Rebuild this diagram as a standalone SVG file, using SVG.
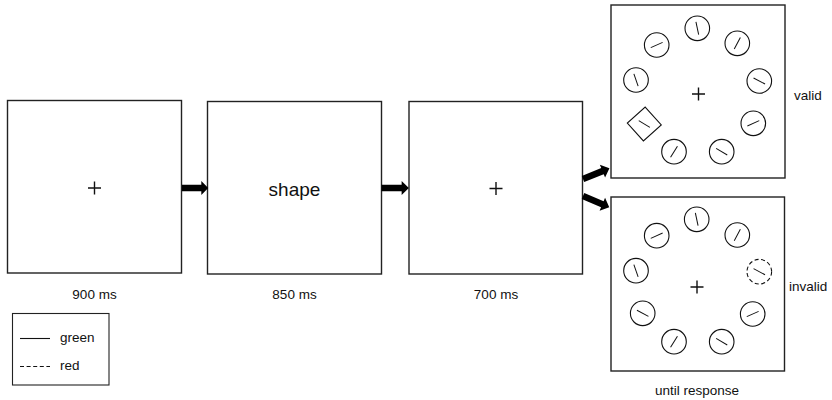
<svg xmlns="http://www.w3.org/2000/svg" width="832" height="400" viewBox="0 0 832 400">
<style>
  .box{fill:#fff;stroke:#222;stroke-width:1.4}
  .plus{stroke:#111;stroke-width:1.4;fill:none}
  .stim circle,.stim polygon{fill:none;stroke:#111;stroke-width:1.1}
  .stim line{stroke:#111;stroke-width:1}
  .dash{stroke-dasharray:4 2.6}
  .arrow{fill:#000}
  text{font-family:"Liberation Sans",Arial,sans-serif;font-size:13.5px;fill:#111}
  .big{font-size:19px}
</style>
<defs>
  <path id="plusS" d="M-6.5,0H6.5M0,-6.5V6.5"/>
  <path id="arr" d="M0,-3.3H21V-7L28.5,0L21,7V3.3H0Z"/>
</defs>
<rect width="832" height="400" fill="#fff"/>

<g id="fix1">
  <rect class="box" x="7.5" y="100.5" width="174" height="172.5"/>
  <use href="#plusS" class="plus" x="94.5" y="188"/>
  <text x="94.5" y="299" text-anchor="middle">900 ms</text>
</g>

<g id="shape">
  <rect class="box" x="207.5" y="101.5" width="174" height="172.5"/>
  <text class="big" x="294.5" y="196" text-anchor="middle">shape</text>
  <text x="294.5" y="299" text-anchor="middle">850 ms</text>
</g>

<g id="fix2">
  <rect class="box" x="409" y="101.5" width="173.5" height="172.5"/>
  <use href="#plusS" class="plus" x="496" y="188.5"/>
  <text x="496" y="299" text-anchor="middle">700 ms</text>
</g>

<g id="valid">
  <rect class="box" x="611" y="5" width="174" height="173"/>
  <use href="#plusS" class="plus" x="698.5" y="94"/>
  <g class="stim">
    <g transform="translate(697.3,28.3)"><circle r="12.3"/><line x1="-6.5" x2="6.5" transform="rotate(78)"/></g>
    <g transform="translate(656.7,45)"><circle r="12.3"/><line x1="-6.5" x2="6.5" transform="rotate(-24)"/></g>
    <g transform="translate(737.3,43.3)"><circle r="12.3"/><line x1="-6.5" x2="6.5" transform="rotate(-62)"/></g>
    <g transform="translate(636,80)"><circle r="12.3"/><line x1="-6.5" x2="6.5" transform="rotate(71)"/></g>
    <g transform="translate(759.3,81)"><circle r="12.3"/><line x1="-6.5" x2="6.5" transform="rotate(28)"/></g>
    <g transform="translate(644.3,124)"><polygon points="0,-17 17,0 0,17 -17,0" transform="rotate(3)"/><line x1="-6.5" x2="6.5" transform="rotate(31)"/></g>
    <g transform="translate(753.3,123.3)"><circle r="12.3"/><line x1="-6.5" x2="6.5" transform="rotate(-24)"/></g>
    <g transform="translate(674,151.7)"><circle r="12.3"/><line x1="-6.5" x2="6.5" transform="rotate(-58)"/></g>
    <g transform="translate(721.7,151.7)"><circle r="12.3"/><line x1="-6.5" x2="6.5" transform="rotate(31)"/></g>
  </g>
  <text x="794" y="100">valid</text>
</g>

<g id="invalid">
  <rect class="box" x="611" y="197" width="173.5" height="174"/>
  <use href="#plusS" class="plus" x="697" y="287"/>
  <g class="stim">
    <g transform="translate(696.7,219.3)"><circle r="12.3"/><line x1="-6.5" x2="6.5" transform="rotate(78)"/></g>
    <g transform="translate(656.7,235.7)"><circle r="12.3"/><line x1="-6.5" x2="6.5" transform="rotate(-24)"/></g>
    <g transform="translate(737.3,235)"><circle r="12.3"/><line x1="-6.5" x2="6.5" transform="rotate(-62)"/></g>
    <g transform="translate(636,270.7)"><circle r="12.3"/><line x1="-6.5" x2="6.5" transform="rotate(71)"/></g>
    <g transform="translate(759.3,271.7)"><circle r="12.3" class="dash"/><line x1="-6.5" x2="6.5" transform="rotate(28)"/></g>
    <g transform="translate(642.7,313.3)"><circle r="12.3"/><line x1="-6.5" x2="6.5" transform="rotate(28)"/></g>
    <g transform="translate(752.7,314)"><circle r="12.3"/><line x1="-6.5" x2="6.5" transform="rotate(-24)"/></g>
    <g transform="translate(674,341.7)"><circle r="12.3"/><line x1="-6.5" x2="6.5" transform="rotate(-58)"/></g>
    <g transform="translate(721.7,341.7)"><circle r="12.3"/><line x1="-6.5" x2="6.5" transform="rotate(31)"/></g>
  </g>
  <text x="789" y="291">invalid</text>
  <text x="697" y="395" text-anchor="middle">until response</text>
</g>

<g id="legend">
  <rect x="12.5" y="313.5" width="96.5" height="71.5" fill="#fff" stroke="#222" stroke-width="1.1"/>
  <line x1="20" y1="338.5" x2="50" y2="338.5" stroke="#111" stroke-width="1.1"/>
  <text x="60" y="342">green</text>
  <line x1="20" y1="366.5" x2="50" y2="366.5" stroke="#111" stroke-width="1.1" class="dash"/>
  <text x="60" y="370">red</text>
</g>

<g id="connectors">
  <use href="#arr" class="arrow" transform="translate(182,188) scale(0.92,1)"/>
  <use href="#arr" class="arrow" transform="translate(381.5,188) scale(0.96,1)"/>
  <use href="#arr" class="arrow" transform="translate(583,179) rotate(-22)"/>
  <use href="#arr" class="arrow" transform="translate(583,196) rotate(23)"/>
</g>
</svg>
